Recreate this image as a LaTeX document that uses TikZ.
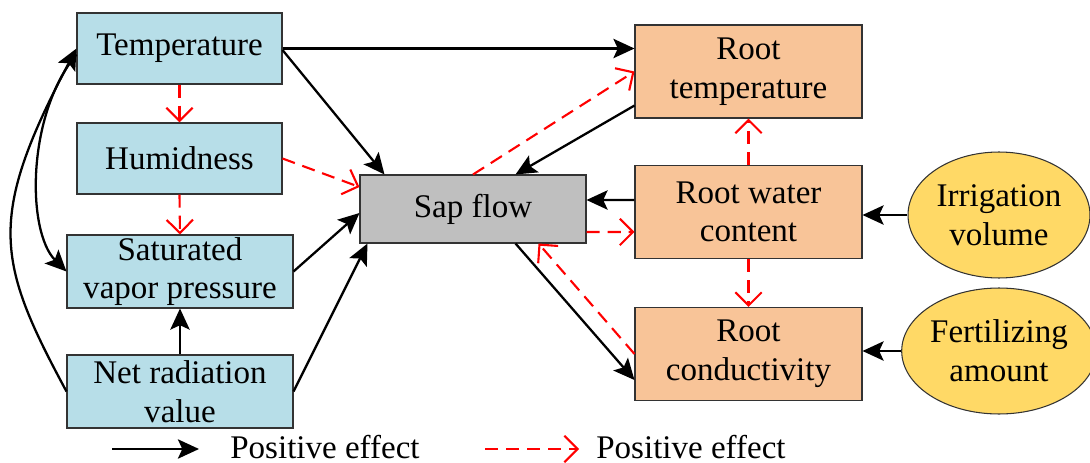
\documentclass[tikz,border=0pt]{standalone}
\usepackage{fontspec}
\setmainfont{Liberation Serif}
\usetikzlibrary{calc, positioning}
\usetikzlibrary{arrows.meta}
\usetikzlibrary{shapes.geometric}

\definecolor{climblue}{RGB}{183,222,232}
\definecolor{rootorange}{RGB}{248,196,152}
\definecolor{sapgray}{RGB}{191,191,191}
\definecolor{inyellow}{RGB}{255,217,102}

\begin{document}
\begin{tikzpicture}[x=0.02cm, y=-0.02cm, font=\fontsize{18.8}{22}\selectfont]
\def\climwidth{4.1cm}
\def\sapwidth{4.52cm}
\def\rootwidth{4.54cm}
\tikzset{nodebox/.style={draw=black!80, line width=0.6pt, align=center, inner sep=0pt},
  climbox/.style={nodebox, fill=climblue, minimum width=\climwidth, minimum height=1.42cm},
  widebox/.style={nodebox, fill=climblue, minimum width=\sapwidth, minimum height=1.46cm},
  sapbox/.style={nodebox, fill=sapgray, minimum width=\sapwidth, minimum height=1.36cm},
  rootbox/.style={nodebox, fill=rootorange, minimum width=\rootwidth, minimum height=1.86cm},
  inell/.style={nodebox, ellipse, fill=inyellow, minimum width=3.64cm, minimum height=2.52cm},
  posarr/.style={line width=1.3pt, -{Stealth[length=12pt, width=11pt, inset=2.5pt]}},
  dasharr/.style={red, line width=1.2pt, dash pattern=on 7.5pt off 4.5pt, -{Straight Barb[length=7.5pt, width=15pt]}}}

\useasboundingbox (0,0) rectangle (1090,463);

% climate side
\node[climbox] (temp) at (179.5,48.5) {Temperature};
\node[climbox] (hum) at (179.5,158.5) {Humidness};
\node[widebox] (svp) at (180,271.5) {Saturated\\vapor pressure};
\node[widebox] (net) at (180,391.5) {Net radiation\\value};

% plant / root side
\node[sapbox] (sap) at (473,209) {Sap flow};
\node[rootbox] (rtemp) at (748.5,71.5) {Root\\temperature};
\node[rootbox] (rwc) at (748.5,212) {Root water\\content};
\node[rootbox] (rcond) at (748.5,354) {Root\\conductivity};
\node[inell] (irr) at (999,215) {Irrigation\\volume};
\node[inell] (fert) at (999,351) {Fertilizing\\amount};

% solid links
\draw[posarr] (temp.east) -- (temp.east -| rtemp.west);
\draw[posarr] ([yshift=-0.03cm]temp.east) -- ([xshift=0.5cm]sap.north west);
\draw[posarr] ([yshift=0.26cm]rtemp.south west) -- ([xshift=-1.42cm]sap.north east);
\draw[posarr] ([yshift=0.24cm]rwc.west) -- ([yshift=0.18cm]sap.east);
\draw[posarr] ([xshift=-1.42cm]sap.south east) -- ([yshift=0.42cm]rcond.south west);
\draw[posarr] (svp.east) -- ([yshift=-0.08cm]sap.west);
\draw[posarr] (net.east) -- ([xshift=0.16cm]sap.south west);
\draw[posarr] (net.north) -- (svp.south);
\draw[posarr] (irr.west) -- (irr.west -| rwc.east);
\draw[posarr] (fert.west) -- (fert.west -| rcond.east);
\draw[posarr] (net.west) .. controls +(-70,-130) and +(-90,170) .. (temp.west);
\draw[posarr] ([yshift=-0.12cm]temp.west) .. controls +(-50,60) and +(-40,-40) .. (svp.west);

% dashed links
\draw[dasharr] (temp.south) -- (hum.north);
\draw[dasharr] (hum.south) -- (svp.north);
\draw[dasharr] (hum.east) -- ([yshift=0.44cm]sap.west);
\draw[dasharr] (sap.north) -- (rtemp.west);
\draw[dasharr] ([yshift=-0.46cm]sap.east) -- ([yshift=-0.4cm]rwc.west);
\draw[dasharr] (rwc.north) -- (rtemp.south);
\draw[dasharr] (rwc.south) -- (rcond.north);
\draw[dasharr] (rcond.west) -- ([xshift=-0.96cm]sap.south east);

% legend
\coordinate (solidA) at (112,449);
\coordinate (solidB) at (199,449);
\coordinate (dashA) at (485,449);
\coordinate (dashB) at (579,449);
\draw[posarr] (solidA) -- (solidB);
\node[anchor=west, inner sep=0pt] (solidlab) at (230,447) {Positive effect};
\draw[dasharr] (dashA) -- (dashB);
\node[anchor=west, inner sep=0pt] (dashlab) at (596,447) {Positive effect};
\end{tikzpicture}
\end{document}
